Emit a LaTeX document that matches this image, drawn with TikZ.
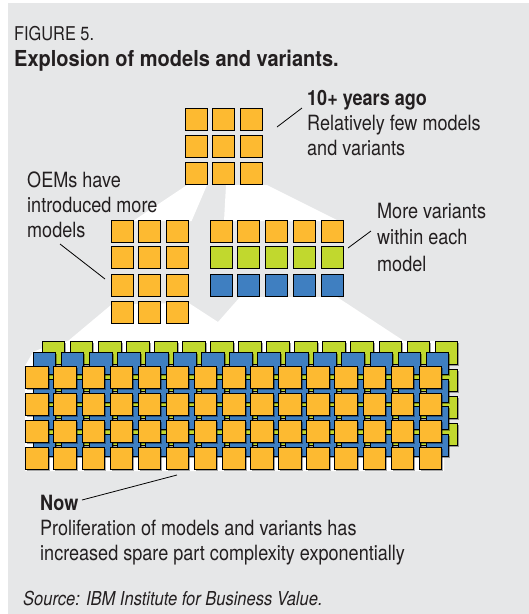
\documentclass[tikz,border=0pt]{standalone}
\usepackage{fontspec}
\setmainfont{TeX Gyre Heros}[FakeStretch=0.86]
\newfontfamily\titlefont{TeX Gyre Heros}[FakeStretch=0.91]
\definecolor{bg}{RGB}{230,231,232}
\definecolor{org}{RGB}{253,186,49}
\definecolor{grn}{RGB}{193,216,46}
\definecolor{blu}{RGB}{63,127,193}
\definecolor{ink}{RGB}{35,31,32}
\begin{document}
\begin{tikzpicture}[x=1pt,y=-1pt,
  txt/.style={inner sep=0pt, anchor=base west, text=ink, font=\fontsize{21}{25}\selectfont},
  btxt/.style={txt, font=\fontsize{21}{25}\selectfont\bfseries},
  sqbox/.style={draw=black, line width=0.8pt},
  shade/.style={fill=black, opacity=0.35},
  leader/.style={draw=black, line width=0.8pt},
  beam/.style={fill=white, draw=none}]
\useasboundingbox (0,0) rectangle (529,614);
\fill[bg] (8,3) rectangle (529,614);

% light beams
\fill[beam] (187,185) -- (207,185) -- (191.6,221) -- (133,221) -- cycle;
\fill[beam] (226,185) -- (267,185) -- (339,221) -- (224,221) -- cycle;
\fill[beam] (111,305) -- (188,302.5) -- (218,322) -- (240,297) -- (337,297) -- (404,341)
  -- (444,341) -- (444,471) -- (25,471) -- (25,366) -- (33,352) -- (40,349) -- (68,341) -- cycle;

% top grid
\foreach \x in {185,212.5,240} \foreach \y in {108,135,162.5}
  \filldraw[sqbox, fill=org] (\x,\y) rectangle ++(22,22);

% middle-left grid
\foreach \x in {111,138.5,166} \foreach \y in {220,246.5,274,301.5}
  \filldraw[sqbox, fill=org] (\x,\y) rectangle ++(22,22);

% middle-right grid
\foreach \x in {210,237.8,265.6,293.4,321.2} {
  \filldraw[sqbox, fill=org] (\x,220) rectangle ++(22,22);
  \filldraw[sqbox, fill=grn] (\x,246.5) rectangle ++(22,22);
  \filldraw[sqbox, fill=blu] (\x,274) rectangle ++(22,22);
}

% bottom grid: green layer
\foreach \i in {0,...,14} \foreach \j in {0,...,3}
  \fill[shade] ({42.3+28.05*\i+1.6},{341.7+27.2*\j+1.6}) rectangle ++(22.5,22.5);
\foreach \i in {0,...,14} \foreach \j in {0,...,3}
  \filldraw[sqbox, fill=grn] ({42.3+28.05*\i},{341.7+27.2*\j}) rectangle ++(22.5,22.5);
% blue layer
\foreach \i in {0,...,14} \foreach \j in {0,...,3}
  \fill[shade] ({33.3+28.05*\i+1.6},{352.3+27.2*\j+1.6}) rectangle ++(22.5,22.5);
\foreach \i in {0,...,14} \foreach \j in {0,...,3}
  \filldraw[sqbox, fill=blu] ({33.3+28.05*\i},{352.3+27.2*\j}) rectangle ++(22.5,22.5);
% orange layer
\foreach \i in {0,...,14} \foreach \j in {0,...,3}
  \fill[shade] ({25.7+28.1*\i+1.6},{366+27.1*\j+1.6}) rectangle ++(22.5,22.5);
\foreach \i in {0,...,14} \foreach \j in {0,...,3}
  \filldraw[sqbox, fill=org] ({25.7+28.1*\i},{366+27.1*\j}) rectangle ++(22.5,22.5);

% titles
\node[txt, font=\fontsize{19}{22}\selectfont] (fig) at (14,40) {FIGURE 5.};
\node[txt, font=\fontsize{22}{26}\selectfont\titlefont\bfseries] (title) at (14,66.7) {Explosion of models and variants.};

% labels
\node[btxt] (ago) at (307,105) {10+ years ago};
\node[txt] (ago2) at (307,130) {Relatively few models};
\node[txt] (ago3) at (307,155) {and variants};

\node[txt] (oem1) at (27,187) {OEMs have};
\node[txt] (oem2) at (27,212) {introduced more};
\node[txt] (oem3) at (27,237) {models};

\node[txt] (var1) at (377,218) {More variants};
\node[txt] (var2) at (377,244) {within each};
\node[txt] (var3) at (377,271) {model};

\node[btxt] (now) at (40,510) {Now};
\node[txt] (now2) at (40,535) {Proliferation of models and variants has};
\node[txt] (now3) at (40,560) {increased spare part complexity exponentially};

\node[txt, font=\fontsize{19.2}{22}\selectfont\itshape] (src) at (23,605) {Source: IBM Institute for Business Value.};

% leader lines
\coordinate (l1a) at (277,127); \coordinate (l1b) at (302,108);
\coordinate (l2a) at (60,244);  \coordinate (l2b) at (105,279);
\coordinate (l3a) at (348,248); \coordinate (l3b) at (371,231);
\coordinate (l4a) at (82,500);  \coordinate (l4b) at (177,475);
\draw[leader] (l1a) -- (l1b);
\draw[leader] (l2a) -- (l2b);
\draw[leader] (l3a) -- (l3b);
\draw[leader] (l4a) -- (l4b);
\end{tikzpicture}
\end{document}
